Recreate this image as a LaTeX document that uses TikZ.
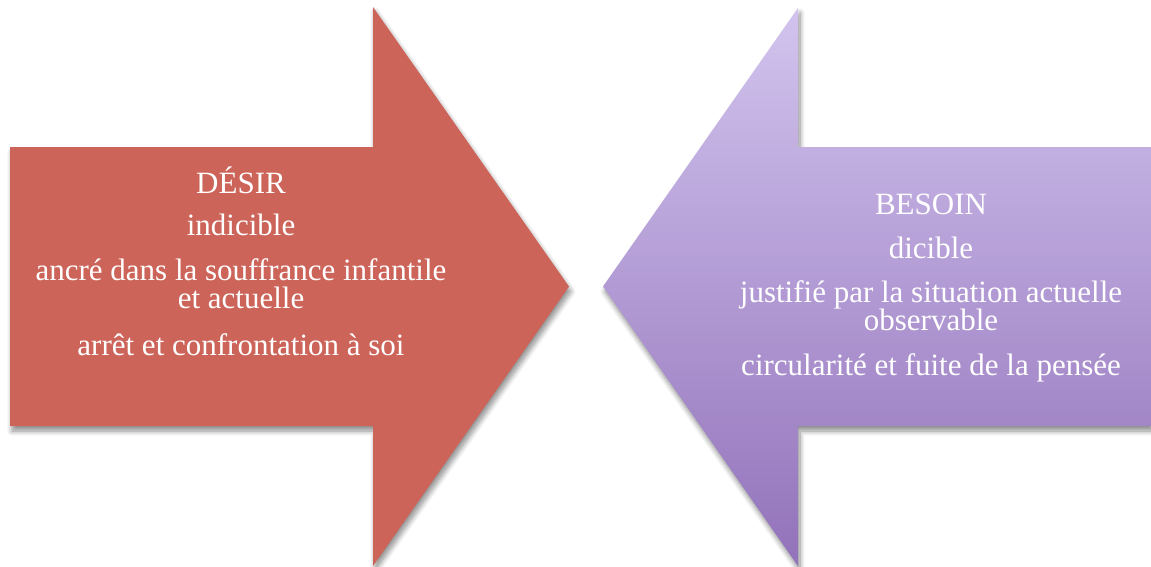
\documentclass[tikz,border=0pt]{standalone}
\usepackage{fontspec}
\setmainfont{Liberation Serif}
\usetikzlibrary{shadows.blur}
\definecolor{desirred}{HTML}{CC6459}
\definecolor{lavtop}{HTML}{D2C4EE}
\definecolor{lavbot}{HTML}{9272BA}
\tikzset{
  arrowshadow/.style={blur shadow={shadow xshift=2pt, shadow yshift=-5pt, shadow blur radius=5pt, shadow opacity=45, shadow blur steps=8}},
  txt/.style={text=white, anchor=base, inner sep=0pt, font=\fontsize{31}{34}\selectfont}
}
\begin{document}
\begin{tikzpicture}[x=1pt,y=-1pt]
\useasboundingbox (0,0) rectangle (1151,566);
% left arrow
\path[fill=desirred, arrowshadow]
  (10,147) -- (373,147) -- (373,7) -- (569,286.5) -- (373,566) -- (373,426) -- (10,426) -- cycle;
% right arrow
\path[top color=lavtop, bottom color=lavbot, arrowshadow]
  (1151,147) -- (798,147) -- (798,8) -- (603,286.5) -- (798,566) -- (798,426) -- (1151,426) -- cycle;
% left text
\node[txt] (l1) at (241,193) {DÉSIR};
\node[txt] (l2) at (241,235) {indicible};
\node[txt] (l3) at (241,280) {ancré dans la souffrance infantile};
\node[txt] (l4) at (241,308) {et actuelle};
\node[txt] (l5) at (241,355) {arrêt et confrontation à soi};
% right text
\node[txt] (r1) at (931,214) {BESOIN};
\node[txt] (r2) at (931,258) {dicible};
\node[txt] (r3) at (931,302) {justifié par la situation actuelle};
\node[txt] (r4) at (931,330) {observable};
\node[txt] (r5) at (931,375) {circularité et fuite de la pensée};
\end{tikzpicture}
\end{document}
